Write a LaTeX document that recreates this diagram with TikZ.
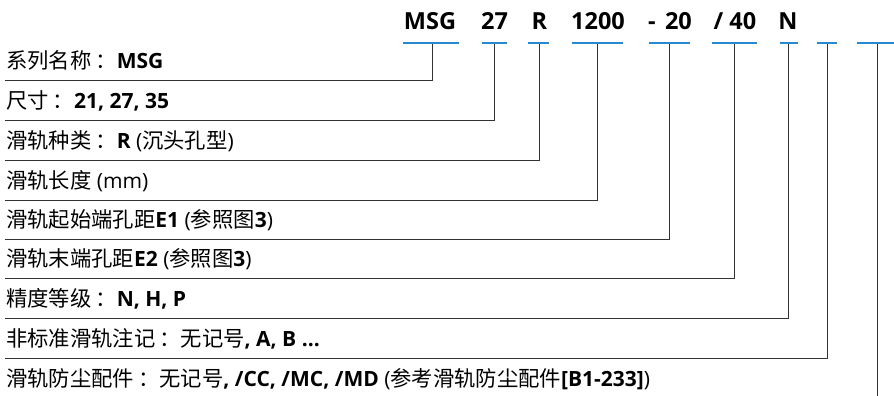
\documentclass[tikz,border=0pt]{standalone}
\usepackage{fontspec}
\setmainfont{Open Sans}
\newfontfamily\cjk[Scale=1.015]{Noto Sans CJK SC}
\newcommand{\zh}[1]{{\cjk #1}}
\newcommand{\zc}{\hspace{4pt}{\cjk ：}}
\definecolor{codeblue}{RGB}{40,138,206}
\definecolor{conncol}{RGB}{50,50,50}
\begin{document}
\begin{tikzpicture}[x=1pt,y=-1pt,
  code/.style={font=\fontsize{23.5}{24}\selectfont\bfseries, inner sep=0pt, anchor=base},
  rowtext/.style={font=\fontsize{21}{21}\selectfont, inner sep=0pt, anchor=base west},
  bar/.style={fill=codeblue, draw=none, inner sep=0pt, minimum height=2.2pt},
  conn/.style={draw=conncol, line width=0.9pt}]
\useasboundingbox (0,0) rectangle (894,396);
% code texts
\node[code] (c1) at (430,30) {MSG};
\node[code] (c2) at (494.5,30) {27};
\node[code] (c3) at (539.5,30) {R};
\node[code] (c4) at (598,30) {1200};
\node[code] (c5) at (670,30) {-\hspace{0.4em}20};
\node[code] (c6) at (735,30) {/ 40};
\node[code] (c7) at (788,30) {N};
% row texts
\node[rowtext] (r1) at (6,68) {\zh{系列名称}\zc\textbf{MSG}};
\node[rowtext] (r2) at (6,108) {\zh{尺寸}\zc\textbf{21, 27, 35}};
\node[rowtext] (r3) at (6,148) {\zh{滑轨种类}\zc\textbf{R} (\zh{沉头孔型})};
\node[rowtext] (r4) at (6,188) {\zh{滑轨长度} (mm)};
\node[rowtext] (r5) at (6,227) {\zh{滑轨起始端孔距}\textbf{E1} (\zh{参照图}\textbf{3})};
\node[rowtext] (r6) at (6,266) {\zh{滑轨末端孔距}\textbf{E2} (\zh{参照图}\textbf{3})};
\node[rowtext] (r7) at (6,306) {\zh{精度等级}\zc\textbf{N, H, P}};
\node[rowtext] (r8) at (6,346) {\zh{非标准滑轨注记}\zc\zh{无记号}\textbf{, A, B ...}};
\node[rowtext] (r9) at (6,386) {\zh{滑轨防尘配件}\zc\zh{无记号}\textbf{, /CC, /MC, /MD} (\zh{参考滑轨防尘配件}\textbf{[B1-233]})};
% line ends
\coordinate (l1) at (5,80);
\coordinate (l2) at (5,120);
\coordinate (l3) at (5,160);
\coordinate (l4) at (5,200);
\coordinate (l5) at (5,239);
\coordinate (l6) at (5,278);
\coordinate (l7) at (5,318);
\coordinate (l8) at (5,358);
\coordinate (l9) at (877,396);
% connectors
\draw[conn] (432,43) coordinate (v1) |- (l1);
\draw[conn] (494,43) coordinate (v2) |- (l2);
\draw[conn] (539,43) coordinate (v3) |- (l3);
\draw[conn] (597,43) coordinate (v4) |- (l4);
\draw[conn] (669,43) coordinate (v5) |- (l5);
\draw[conn] (734,43) coordinate (v6) |- (l6);
\draw[conn] (788,43) coordinate (v7) |- (l7);
\draw[conn] (827,43) coordinate (v8) |- (l8);
\draw[conn] (877,43) coordinate (v9) -- (l9);
% blue bars
\node[bar, minimum width=56pt] (b1) at (431,43) {};
\node[bar, minimum width=25pt] (b2) at (494.5,43) {};
\node[bar, minimum width=21pt] (b3) at (538.5,43) {};
\node[bar, minimum width=51pt] (b4) at (597.5,43) {};
\node[bar, minimum width=41pt] (b5) at (669.5,43) {};
\node[bar, minimum width=45pt] (b6) at (734.5,43) {};
\node[bar, minimum width=18pt] (b7) at (789,43) {};
\node[bar, minimum width=20pt] (b8) at (827,43) {};
\node[bar, minimum width=37pt] (b9) at (875.5,43) {};
\end{tikzpicture}
\end{document}
